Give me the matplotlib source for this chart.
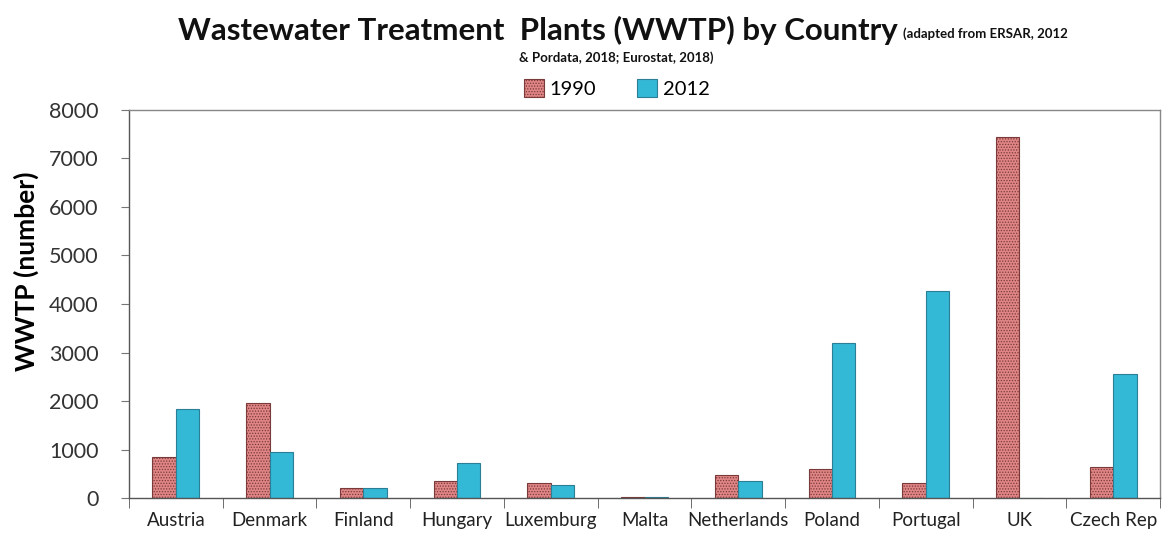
import matplotlib
matplotlib.use("Agg")
import matplotlib.pyplot as plt
import numpy as np
from matplotlib.patches import Patch

countries = ["Austria", "Denmark", "Finland", "Hungary", "Luxemburg", "Malta",
             "Netherlands", "Poland", "Portugal", "UK", "Czech Rep"]
wwtp_1990 = [850, 1960, 215, 350, 310, 15, 480, 600, 315, 7450, 640]
wwtp_2012 = [1840, 945, 210, 725, 265, 15, 355, 3190, 4260, 0, 2560]
yticks = [0, 1000, 2000, 3000, 4000, 5000, 6000, 7000, 8000]

plt.rcParams["font.family"] = ["Lato", "DejaVu Sans"]
plt.rcParams["hatch.linewidth"] = 0.6

fig = plt.figure(figsize=(11.68, 5.37), dpi=100)
ax = fig.add_axes([0.1104, 0.0726, 0.8828, 0.7226])

x = np.arange(len(countries))
w = 0.25
c1990 = "#e08585"
c2012 = "#33b8d6"
ax.bar(x - w / 2, wwtp_1990, w, color=c1990, edgecolor="#7a3a3a",
       hatch="......", linewidth=0.8)
ax.bar(x + w / 2, wwtp_2012, w, color=c2012, edgecolor="#2a7f95",
       linewidth=0.8)

ax.set_xlim(-0.5, len(countries) - 0.5)
ax.set_ylim(0, 8000)
ax.set_yticks(yticks)
ax.set_yticklabels([str(v) for v in yticks], fontsize=15.5, color="#333333")
ax.set_xticks(x)
ax.set_xticklabels(countries, fontsize=13.5, color="#222222")
ax.tick_params(axis="x", length=0, pad=10)
ax.set_xticks(np.arange(-0.5, len(countries), 1.0), minor=True)
ax.tick_params(axis="x", which="minor", length=7, color="#555555", direction="out")
ax.tick_params(axis="y", length=6, color="#777777", direction="out", pad=16)
for s in ax.spines.values():
    s.set_color("#555555")
    s.set_linewidth(1.0)
ax.spines["top"].set_color("#888888")
ax.spines["right"].set_color("#888888")

ax.set_ylabel("WWTP (number)", fontsize=19, fontweight="bold")
ax.yaxis.set_label_coords(-0.087, 0.585)

# Title with the source note running on right after it
title = fig.text(0.152, 0.944, "Wastewater Treatment  Plants (WWTP) by Country",
                 fontsize=22.5, fontweight="bold", ha="left", va="center",
                 color="#111111")
fig.canvas.draw()
bb = title.get_window_extent(renderer=fig.canvas.get_renderer())
x_note = (bb.x1 + 6) / fig.bbox.width
fig.text(x_note, 0.938, "(adapted from ERSAR, 2012", fontsize=9.5,
         fontweight="bold", ha="left", va="center", color="#111111")
fig.text(0.528, 0.893, "& Pordata, 2018; Eurostat, 2018)", fontsize=9.5,
         fontweight="bold", ha="center", va="center", color="#111111")

handles = [Patch(facecolor=c1990, edgecolor="#7a3a3a", hatch="......", linewidth=0.8),
           Patch(facecolor=c2012, edgecolor="#2a7f95", linewidth=0.8)]
fig.legend(handles, ["1990", "2012"], loc="center", bbox_to_anchor=(0.528, 0.836),
           ncol=2, frameon=False, fontsize=14.5, handlelength=1.0, handleheight=1.0,
           handletextpad=0.3, columnspacing=2.0)

fig.savefig("out.png", dpi=100)
